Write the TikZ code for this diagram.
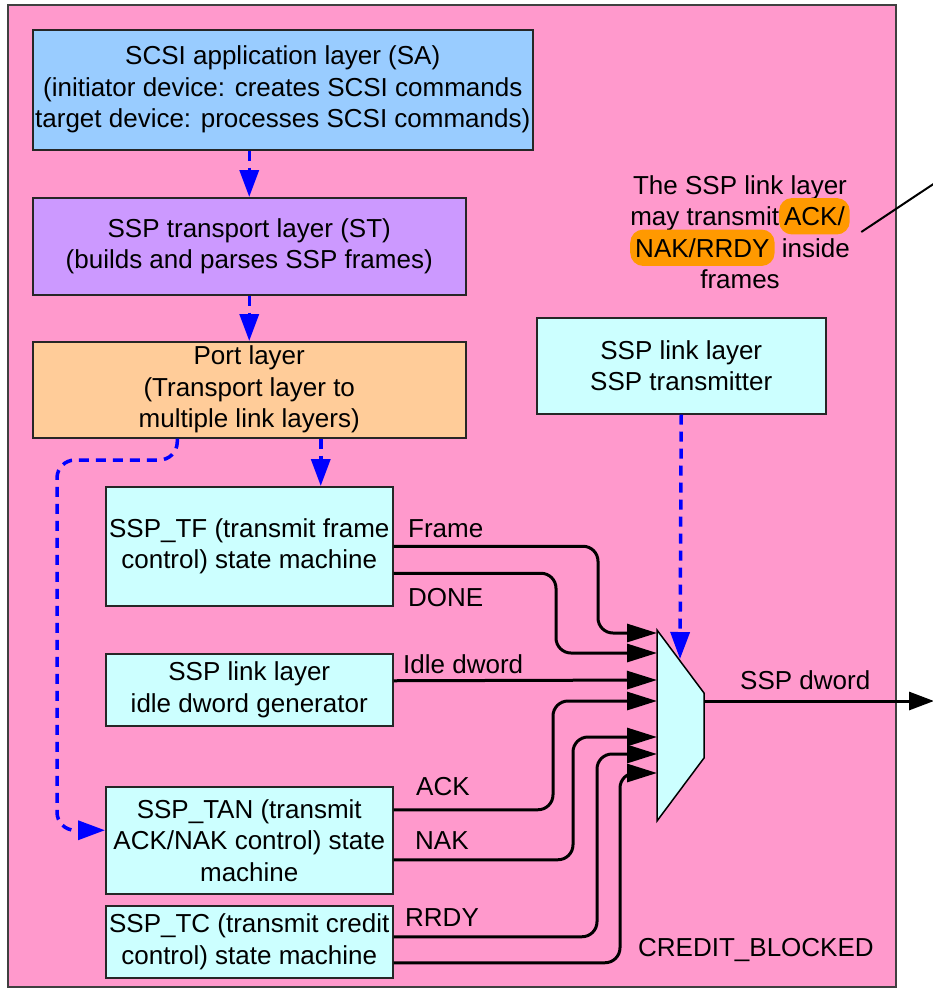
\documentclass[tikz,border=0pt]{standalone}
\usepackage{fontspec}
\setmainfont{Liberation Sans}
\usepackage{tikz}
\usetikzlibrary{arrows.meta,calc}
\definecolor{framepink}{HTML}{FF99CC}
\definecolor{saBlue}{HTML}{99CCFF}
\definecolor{stPurple}{HTML}{CC99FF}
\definecolor{portOrange}{HTML}{FFCC99}
\definecolor{linkCyan}{HTML}{CCFFFF}
\definecolor{hlOrange}{HTML}{FF9900}
\newcommand{\hilite}[1]{\smash{\tikz[baseline=(hl.base)]\node[fill=hlOrange,rounded corners=13pt,inner xsep=5pt,minimum height=35pt] (hl) {#1};}}

\begin{document}
\begin{tikzpicture}[x=1pt,y=-1pt,font=\fontsize{26}{31.5}\selectfont]
        \tikzstyle{layer} = [rectangle, draw=black!85, line width=1.5pt, inner xsep=0pt, align=center, anchor=north west]
        \tikzstyle{signal} = [anchor=west, inner sep=0pt]
        \tikzstyle{wire} = [-{Triangle[length=30pt,width=18pt]}, line width=3pt, rounded corners=15pt]
        \tikzstyle{flow} = [-{Triangle[length=27pt,width=19pt]}, blue, line width=3.5pt, dash pattern=on 10pt off 7pt]

        \useasboundingbox (0,0) rectangle (933,989);
        \draw[fill=framepink, draw=black!75, line width=1.5pt] (8,5) rectangle (896,987);

        % Nodes
        \node[layer, fill=saBlue, minimum width=500pt, minimum height=120pt] (sa) at (32,29) {SCSI application layer (SA)\\(initiator device: creates SCSI commands\\target device: processes SCSI commands)};
        \node[layer, fill=stPurple, minimum width=433pt, minimum height=97pt] (st) at (32,197) {SSP transport layer (ST)\\(builds and parses SSP frames)};
        \node[layer, fill=portOrange, minimum width=433pt, minimum height=96pt] (port) at (32,341) {Port layer\\(Transport layer to\\multiple link layers)};
        \node[layer, fill=linkCyan, minimum width=289pt, minimum height=96pt] (tx) at (536,317) {SSP link layer\\SSP transmitter};
        \node[layer, fill=linkCyan, minimum width=287pt, minimum height=119pt] (tf) at (105,486) {SSP\_TF (transmit frame\\control) state machine};
        \node[layer, fill=linkCyan, minimum width=287pt, minimum height=72pt] (idle) at (105,653) {SSP link layer\\idle dword generator};
        \node[layer, fill=linkCyan, minimum width=287pt, minimum height=107pt] (tan) at (105,786) {SSP\_TAN (transmit\\ACK/NAK control) state\\machine};
        \node[layer, fill=linkCyan, minimum width=287pt, minimum height=72pt] (tc) at (105,905) {SSP\_TC (transmit credit\\control) state machine};

        \node[align=center] (note) at (740,232) {The SSP link layer\\may transmit\hilite{ACK/}\\\hilite{NAK/RRDY} inside\\frames};
        \coordinate (callout) at (965,163);

        % Multiplexer
        \draw[fill=linkCyan, line width=1.5pt] (657,630) -- (704,693) -- (704,758) -- (657,821) -- cycle;
        \foreach \y [count=\i] in {633,653,680,701,737,754,773}
            \coordinate (in\i) at (657,\y);
        \coordinate (mux top) at (680,659);
        \coordinate (mux out) at (704,701);
        \coordinate (out) at (934,701);

        % Labels
        \node[signal] (frame) at (408,529) {Frame};
        \node[signal] (done) at (408,598) {DONE};
        \node[signal] (idlelbl) at (403,664) {Idle dword};
        \node[signal] (ack) at (416,787) {ACK};
        \node[signal] (nak) at (415,841) {NAK};
        \node[signal] (rrdy) at (405,918) {RRDY};
        \node[signal] (blocked) at (638,950) {CREDIT\_BLOCKED};
        \node[signal] (dword) at (740,680) {SSP dword};

        % Edges
        \draw[flow] (sa.south -| st.north) -- (st.north);
        \draw[flow] (st.south) -- (port.north);
        \draw[flow] ([xshift=71.5pt]port.south) -- ([xshift=71.5pt]tf.north);
        \draw[flow, rounded corners=18pt] ([xshift=-72pt]port.south) |- (57,460) |- ([yshift=10pt]tan.west);
        \draw[flow] (tx.south) -- (mux top);

        \draw[wire] (tf.east) -| ([xshift=-59pt]in1) -- (in1);
        \draw[wire] ([yshift=-27pt]tf.east) -| ([xshift=-101pt]in2) -- (in2);
        \draw[wire] ([yshift=9pt]idle.east) -- (in3);
        \draw[wire] ([yshift=30.5pt]tan.east) -| ([xshift=-104pt]in4) -- (in4);
        \draw[wire] ([yshift=-19.5pt]tan.east) -| ([xshift=-84pt]in5) -- (in5);
        \draw[wire] ([yshift=5pt]tc.east) -| ([xshift=-60pt]in6) -- (in6);
        \draw[wire] ([yshift=-21pt]tc.east) -| ([xshift=-37pt]in7) -- (in7);
        \draw[wire, -{Triangle[length=25pt,width=18pt]}] (mux out) -- (out);

        \draw[line width=2pt] ([xshift=8pt]note.east) -- (callout);
\end{tikzpicture}
\end{document}
